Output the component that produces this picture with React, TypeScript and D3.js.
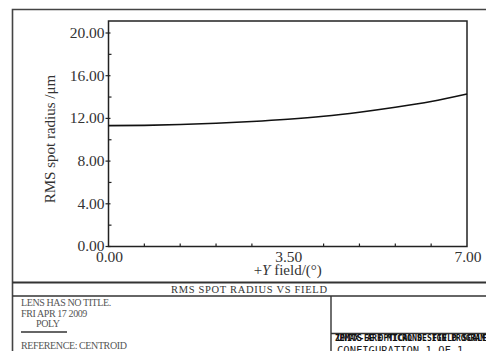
import React, { useRef, useEffect } from "react";
import * as d3 from "d3";

// field angle (deg) vs RMS spot radius (um)
const fieldAngles = [0, 0.7, 1.4, 2.1, 2.8, 3.5, 4.2, 4.9, 5.6, 6.3, 7.0];
const rmsRadius = [11.32, 11.35, 11.43, 11.55, 11.71, 11.92, 12.2, 12.58, 13.04, 13.58, 14.28];

const yMajorTicks = [0, 4, 8, 12, 16, 20];
const yMinorTicks = [2, 6, 10, 14, 18];
const xMajorTicks = [0, 3.5, 7];
const xMinorTicks = [0.7, 1.4, 2.1, 2.8, 4.2, 4.9, 5.6, 6.3];

const infoLines = ["LENS HAS NO TITLE.", "FRI APR 17 2009", "POLY"];

function SpotChart() {
  const svgRef = useRef<SVGSVGElement>(null);

  useEffect(() => {
    const width = 486;
    const height = 351;
    const svg = d3.select(svgRef.current);
    svg.selectAll("*").remove();

    const serif = "'Liberation Serif', 'Times New Roman', serif";
    const plot = { left: 108.5, right: 467, top: 21, bottom: 246.5 };

    const xScale = d3.scaleLinear().domain([0, 7]).range([plot.left, plot.right]);
    const yScale = d3.scaleLinear().domain([0, 20]).range([plot.bottom, 33]);

    svg.append("rect").attr("width", width).attr("height", height).attr("fill", "white");

    // outer sheet frame
    svg
      .append("path")
      .attr("d", `M12.5,${height + 2} V9.5 H${width + 2}`)
      .attr("fill", "none")
      .attr("stroke", "#444")
      .attr("stroke-width", 1.6);

    // plot frame
    svg
      .append("rect")
      .attr("x", plot.left)
      .attr("y", plot.top)
      .attr("width", plot.right - plot.left)
      .attr("height", plot.bottom - plot.top)
      .attr("fill", "none")
      .attr("stroke", "#222")
      .attr("stroke-width", 1.5);

    // y ticks
    yMajorTicks.forEach((v) => {
      svg
        .append("line")
        .attr("x1", plot.left - 3)
        .attr("x2", plot.left + 2)
        .attr("y1", yScale(v))
        .attr("y2", yScale(v))
        .attr("stroke", "#222")
        .attr("stroke-width", 1.2);
      svg
        .append("text")
        .attr("x", plot.left - 4)
        .attr("y", yScale(v) + (v === 0 ? 4 : 5))
        .attr("text-anchor", "end")
        .attr("font-family", serif)
        .attr("font-size", 15.5)
        .attr("fill", "#333")
        .text(d3.format(".2f")(v));
    });
    yMinorTicks.forEach((v) => {
      svg
        .append("line")
        .attr("x1", plot.left)
        .attr("x2", plot.left + 3)
        .attr("y1", yScale(v))
        .attr("y2", yScale(v))
        .attr("stroke", "#222")
        .attr("stroke-width", 1.2);
    });

    // x ticks
    xMinorTicks.forEach((v) => {
      svg
        .append("line")
        .attr("x1", xScale(v))
        .attr("x2", xScale(v))
        .attr("y1", plot.bottom)
        .attr("y2", plot.bottom - 3)
        .attr("stroke", "#222")
        .attr("stroke-width", 1.2);
    });
    xMajorTicks.forEach((v) => {
      svg
        .append("text")
        .attr("x", xScale(v) + 1)
        .attr("y", 262)
        .attr("text-anchor", "middle")
        .attr("font-family", serif)
        .attr("font-size", 15.5)
        .attr("fill", "#333")
        .text(d3.format(".2f")(v));
    });

    // axis titles
    const xTitle = svg
      .append("text")
      .attr("x", xScale(3.5))
      .attr("y", 275)
      .attr("text-anchor", "middle")
      .attr("font-family", serif)
      .attr("font-size", 15)
      .attr("fill", "#333");
    xTitle.append("tspan").text("+");
    xTitle.append("tspan").attr("font-style", "italic").text("Y");
    xTitle.append("tspan").text(" field/(°)");

    svg
      .append("text")
      .attr("transform", `translate(55, 139) rotate(-90)`)
      .attr("text-anchor", "middle")
      .attr("font-family", serif)
      .attr("font-size", 15)
      .attr("fill", "#333")
      .text("RMS spot radius /μm");

    // curve
    const line = d3
      .line<number>()
      .x((d, i) => xScale(fieldAngles[i]))
      .y((d) => yScale(d))
      .curve(d3.curveMonotoneX);
    svg
      .append("path")
      .datum(rmsRadius)
      .attr("d", line)
      .attr("fill", "none")
      .attr("stroke", "#111")
      .attr("stroke-width", 1.6);

    // title block
    svg
      .append("line")
      .attr("x1", 12.5)
      .attr("x2", width + 2)
      .attr("y1", 282.5)
      .attr("y2", 282.5)
      .attr("stroke", "#333")
      .attr("stroke-width", 1.8);
    svg
      .append("line")
      .attr("x1", 12.5)
      .attr("x2", width + 2)
      .attr("y1", 296)
      .attr("y2", 296)
      .attr("stroke", "#333")
      .attr("stroke-width", 1.4);
    svg
      .append("text")
      .attr("x", 249)
      .attr("y", 293)
      .attr("text-anchor", "middle")
      .attr("font-family", serif)
      .attr("font-size", 10.5)
      .attr("textLength", 156)
      .attr("fill", "#333")
      .text("RMS SPOT RADIUS VS FIELD");

    infoLines.forEach((t, i) => {
      svg
        .append("text")
        .attr("x", i === 2 ? 36 : 21)
        .attr("y", 306 + i * 10.5)
        .attr("font-family", serif)
        .attr("font-size", 10)
        .attr("letter-spacing", -0.4)
        .attr("fill", "#555")
        .text(t);
    });
    svg
      .append("line")
      .attr("x1", 21)
      .attr("x2", 67)
      .attr("y1", 332)
      .attr("y2", 332)
      .attr("stroke", "#333")
      .attr("stroke-width", 1.4);
    svg
      .append("text")
      .attr("x", 21)
      .attr("y", 349)
      .attr("font-family", serif)
      .attr("font-size", 10)
      .attr("letter-spacing", -0.4)
      .attr("fill", "#555")
      .text("REFERENCE: CENTROID");

    // right info box
    svg
      .append("line")
      .attr("x1", 331)
      .attr("x2", 331)
      .attr("y1", 296)
      .attr("y2", height + 2)
      .attr("stroke", "#333")
      .attr("stroke-width", 1.4);
    svg
      .append("line")
      .attr("x1", 331)
      .attr("x2", width + 2)
      .attr("y1", 333.5)
      .attr("y2", 333.5)
      .attr("stroke", "#333")
      .attr("stroke-width", 1.4);
    // overprinted header text
    ["ZEMAX-EE OPTICAL DESIGN PROGRAM", "UNITS ARE MICRONS. FIELD SCALE"].forEach((t, i) => {
      svg
        .append("text")
        .attr("x", 335 + i * 2)
        .attr("y", 341)
        .attr("font-family", "'DejaVu Sans Mono', monospace")
        .attr("font-size", 8)
        .attr("font-weight", "bold")
        .attr("textLength", 150)
        .attr("lengthAdjust", "spacingAndGlyphs")
        .attr("fill", "#111")
        .text(t);
    });
    svg
      .append("text")
      .attr("x", 337)
      .attr("y", 354)
      .attr("font-family", "'DejaVu Sans Mono', monospace")
      .attr("font-size", 10.5)
      .attr("fill", "#222")
      .text("CONFIGURATION 1 OF 1");
  }, []);

  return (
    <svg
      ref={svgRef}
      width={486}
      height={351}
      style={{ position: "absolute", left: 0, top: 0 }}
    ></svg>
  );
}

export default function App() {
  return <SpotChart />;
}
